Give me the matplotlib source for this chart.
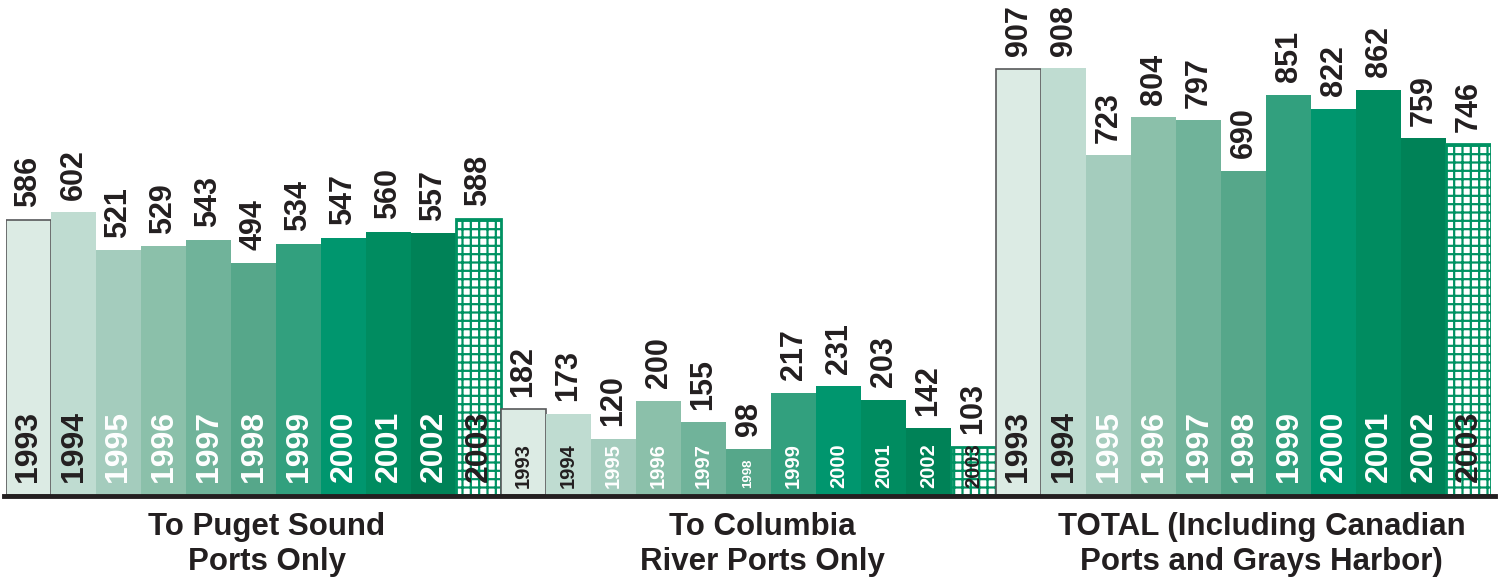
import matplotlib.pyplot as plt
from matplotlib.lines import Line2D

plt.rcParams['font.family'] = ['Liberation Sans', 'DejaVu Sans']
plt.rcParams['hatch.color'] = '#009262'
plt.rcParams['hatch.linewidth'] = 1.6

# data
years = ['1993', '1994', '1995', '1996', '1997', '1998', '1999', '2000', '2001', '2002', '2003']
groups = ['To Puget Sound\nPorts Only',
          'To Columbia\nRiver Ports Only',
          'TOTAL (Including Canadian\nPorts and Grays Harbor)']
puget = [586, 602, 521, 529, 543, 494, 534, 547, 560, 557, 588]
columbia = [182, 173, 120, 200, 155, 98, 217, 231, 203, 142, 103]
total = [907, 908, 723, 804, 797, 690, 851, 822, 862, 759, 746]

colors = ['#dcebe4', '#bfdcd1', '#a4ccbd', '#8bc0aa', '#70b39a', '#56a78a',
          '#32a07e', '#00966e', '#008c60', '#008257', 'white']
year_text = ['#231f20', '#231f20', 'white', 'white', 'white', 'white',
             'white', 'white', 'white', 'white', '#231f20']

fig = plt.figure(figsize=(14.99, 5.79), dpi=100)
ax = fig.add_axes([6 / 1499, 84 / 579, 1485 / 1499, 495 / 579])

n = len(years)
for g, vals in enumerate([puget, columbia, total]):
    for i, v in enumerate(vals):
        x = g * n + i
        if i == n - 1:
            ax.bar(x, v, width=1.0, color='white', edgecolor='#009262',
                   linewidth=2, hatch='++', zorder=2)
        elif i == 0:
            ax.bar(x, v, width=1.0, color=colors[i], edgecolor='#58595b',
                   linewidth=1.2, zorder=2)
        else:
            ax.bar(x, v, width=1.0, color=colors[i], linewidth=0, zorder=2)

        ax.annotate(str(v), (x, v), xytext=(0, 9), textcoords='offset points',
                    rotation=90, ha='center', va='bottom', fontsize=22,
                    fontweight='bold', color='#231f20')

        if g == 1:
            fs = 9.5 if years[i] == '1998' else 14.5
            off = 5
        else:
            fs = 23
            off = 9
        ax.annotate(years[i], (x, 0), xytext=(0, off), textcoords='offset points',
                    rotation=90, ha='center', va='bottom', fontsize=fs,
                    fontweight='bold', color=year_text[i], zorder=3)

# group labels below the baseline
label_x = [5.3, 16.3, 27.4]
for gx, name in zip(label_x, groups):
    ax.text(gx, -36, name, ha='center', va='top', fontsize=22.5,
            fontweight='bold', color='#231f20', linespacing=1.2)

ax.set_xlim(-0.5, 3 * n - 0.5)
ax.set_ylim(0, 1053)
ax.axis('off')

# heavy baseline
fig.add_artist(Line2D([4 / 1499, 1495 / 1499], [83 / 579, 83 / 579],
                      color='#231f20', linewidth=3.5, transform=fig.transFigure))

plt.savefig('out.png', dpi=100)
